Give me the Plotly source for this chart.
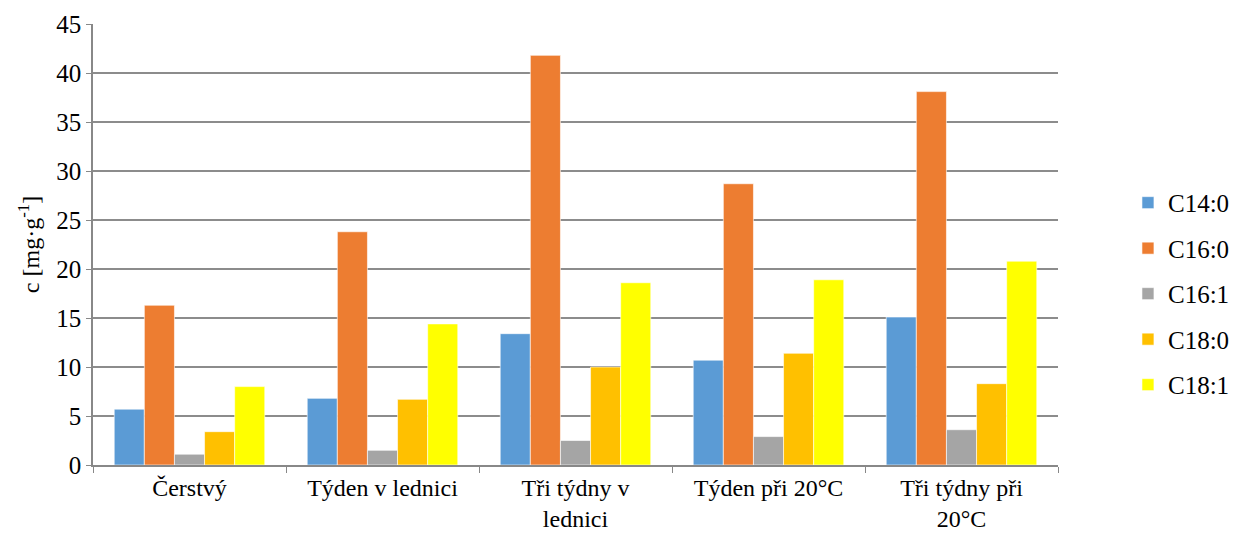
import plotly.graph_objects as go

categories = ["Čerstvý", "Týden v lednici", "Tři týdny v<br>lednici", "Týden při 20°C", "Tři týdny při<br>20°C"]
series_names = ["C14:0", "C16:0", "C16:1", "C18:0", "C18:1"]
c14_0 = [5.7, 6.8, 13.4, 10.7, 15.1]
c16_0 = [16.3, 23.8, 41.8, 28.7, 38.1]
c16_1 = [1.1, 1.5, 2.5, 2.9, 3.6]
c18_0 = [3.4, 6.7, 10.0, 11.4, 8.3]
c18_1 = [8.0, 14.4, 18.6, 18.9, 20.8]
colors = ["#5B9BD5", "#ED7D31", "#A5A5A5", "#FFC000", "#FFFF00"]

values = [c14_0, c16_0, c16_1, c18_0, c18_1]

FF = "Liberation Serif, Times New Roman, serif"

fig = go.Figure()
for name, vals, col in zip(series_names, values, colors):
    fig.add_trace(go.Bar(
        x=categories, y=vals, name=name, legendgroup=name,
        marker=dict(color=col, line=dict(color="white", width=0.6)),
    ))

fig.update_layout(
    width=1234, height=538,
    paper_bgcolor="white", plot_bgcolor="white",
    margin=dict(l=93, r=176, t=24, b=73, autoexpand=False),
    barmode="group", bargap=0.22, bargroupgap=0,
    font=dict(family=FF, size=24, color="black"),
    legend=dict(x=1.0725, y=0.388, xanchor="left", yanchor="middle",
                traceorder="grouped", tracegroupgap=10,
                font=dict(family=FF, size=25, color="black"), itemwidth=30),
    showlegend=True,
)
fig.update_xaxes(
    automargin=False,
    showline=True, linecolor="#888888", linewidth=1.5,
    ticks="outside", tickson="boundaries", ticklen=6, tickcolor="#888888",
    tickfont=dict(family=FF, size=24, color="black"), showgrid=False,
)
fig.update_yaxes(
    automargin=False,
    range=[0, 45], dtick=5,
    showline=True, linecolor="#888888", linewidth=1.5,
    ticks="outside", ticklen=5, tickcolor="#888888",
    showgrid=True, gridcolor="#8C8C8C", gridwidth=1.5,
    tickfont=dict(family=FF, size=25, color="black"),
    title=dict(text="c [mg·g<sup>-1</sup>]", font=dict(family=FF, size=24, color="black"), standoff=10),
    zeroline=False,
)
fig.write_html("out.html", config={"displayModeBar": False},
               post_script="document.body.style.margin='0';")
